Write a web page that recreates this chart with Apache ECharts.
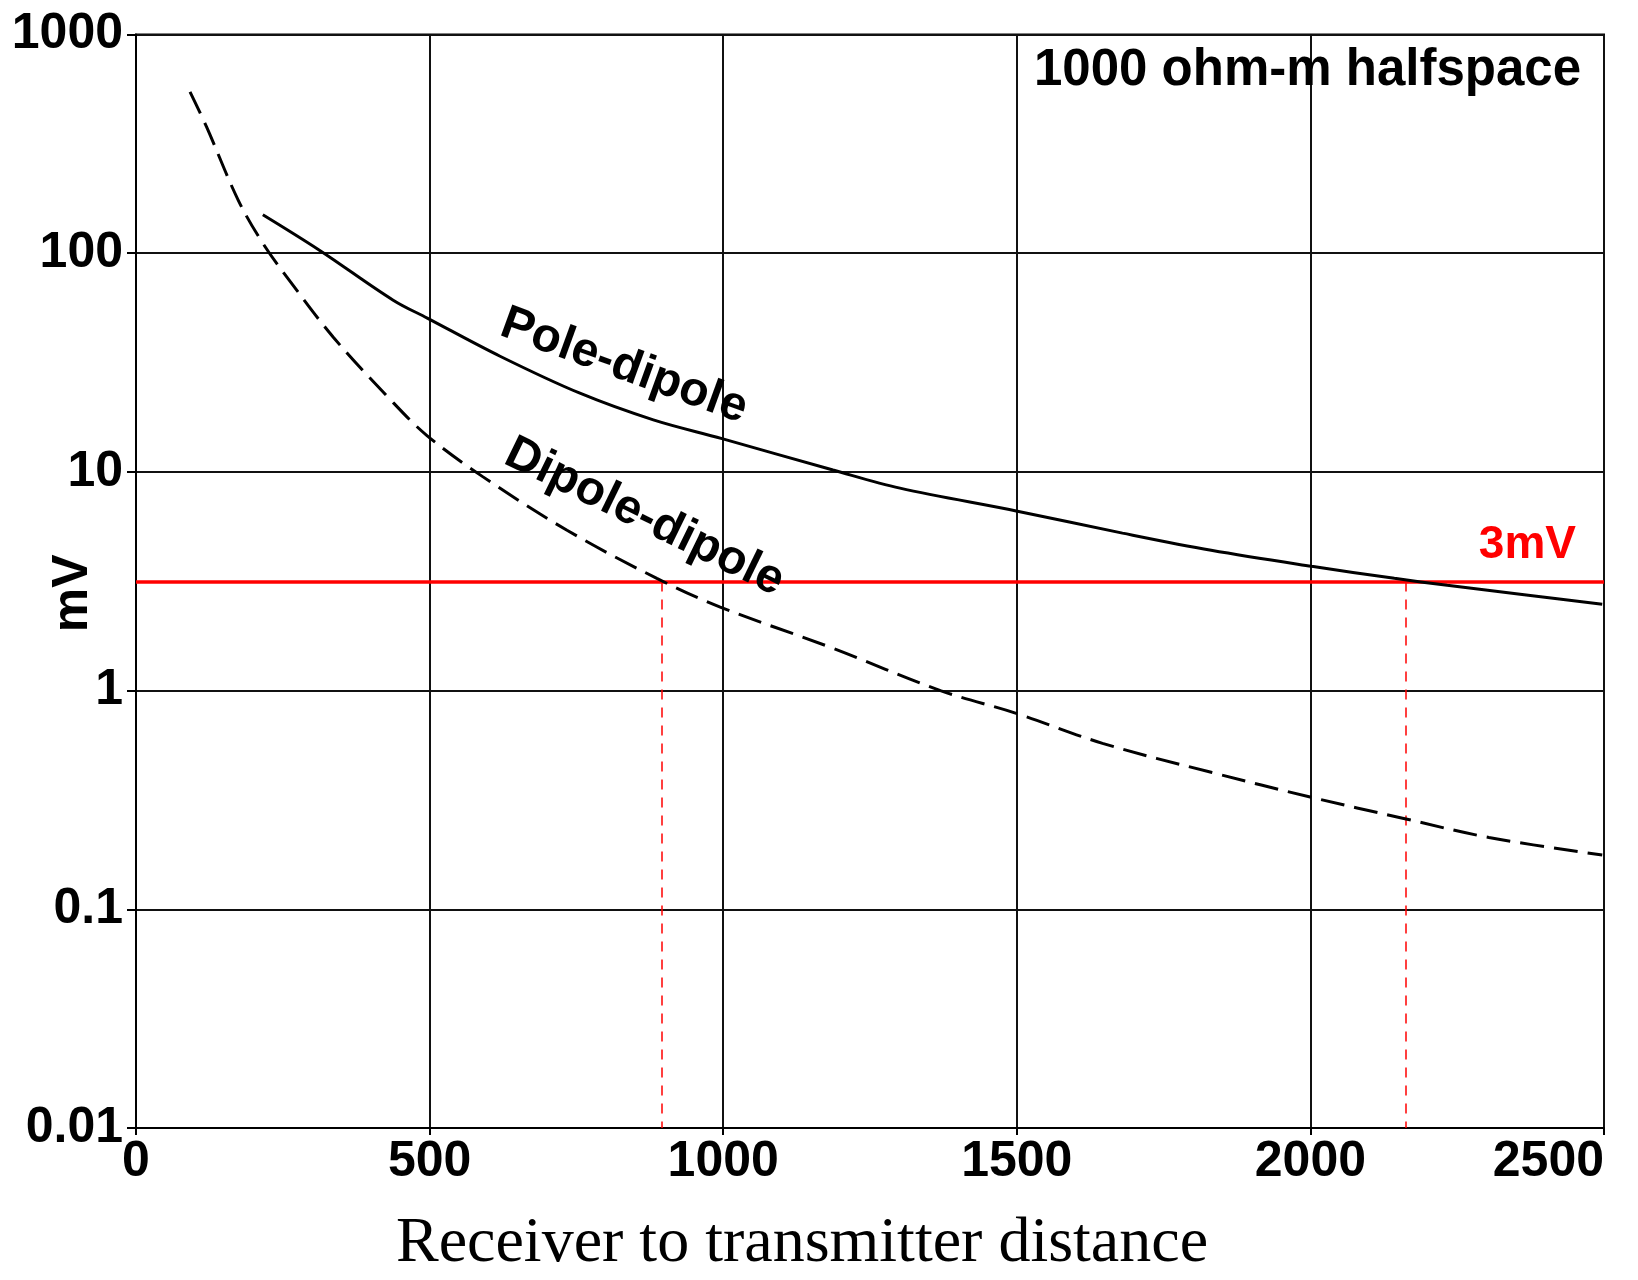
<!DOCTYPE html>
<html>
<head>
<meta charset="utf-8">
<script src="https://cdn.jsdelivr.net/npm/echarts@6/dist/echarts.min.js"></script>
<style>
  html, body { margin: 0; padding: 0; background: #fff; }
  #chart { width: 1638px; height: 1280px; }
</style>
</head>
<body>
<div id="chart"></div>
<script>
// values (distance, mV)
const poleX = [216, 313, 438, 496, 620, 756, 881, 998, 1187, 1301, 1499, 1680, 1831, 2002, 2143, 2233, 2371, 2497];
const poleY = [150, 103, 61, 50.5, 33.8, 22.9, 17.3, 14.2, 10.2, 8.43, 6.63, 5.25, 4.38, 3.70, 3.26, 3.03, 2.73, 2.48];

const dipoleX = [92, 120, 174, 216, 257, 336, 429, 495, 591, 734, 887, 995, 1182, 1370, 1499, 1646, 1831, 2002, 2157, 2304, 2497];
const dipoleY = [547, 379, 175, 111, 77.8, 41.3, 22.0, 14.7, 9.49, 5.41, 3.26, 2.41, 1.58, 1.0, 0.787, 0.574, 0.423, 0.325, 0.261, 0.213, 0.177];

const xTicks = [0, 500, 1000, 1500, 2000, 2500];
const yTickLabels = ['0.01', '0.1', '1', '10', '100', '1000'];

const threshold = 3.15;          // the "3mV" line
const crossX = [895, 2162];      // where the curves meet it
const poleLabelAt = [831, 30.4];
const dipoleLabelAt = [866, 6.2];

const sans = 'Arial, "Liberation Sans", sans-serif';
const serif = '"Times New Roman", "Liberation Serif", serif';

const zip = (xs, ys) => xs.map((x, i) => [x, ys[i]]);

const chart = echarts.init(document.getElementById('chart'));

const curveLabel = (text, rot) => ({
  show: true, position: 'inside', formatter: text, rotate: rot,
  fontSize: 48, fontWeight: 'bold', fontFamily: sans, color: '#000', opacity: 1
});

const option = {
  animation: false,
  backgroundColor: '#fff',
  grid: {
    left: 136, right: 34, top: 34.5, bottom: 152,
    show: true, borderColor: '#000', borderWidth: 2,
    containLabel: false, outerBoundsMode: 'none'
  },
  xAxis: {
    type: 'value',
    min: xTicks[0], max: xTicks[xTicks.length - 1], interval: 500,
    axisLine: { show: true, lineStyle: { color: '#000', width: 2 } },
    axisTick: { show: true, length: 7, lineStyle: { color: '#000', width: 2 } },
    splitLine: { show: true, lineStyle: { color: '#111', width: 2 } },
    axisLabel: {
      fontSize: 50, fontWeight: 'bold', fontFamily: sans, color: '#000',
      margin: 9, alignMaxLabel: 'right',
      formatter: v => String(v)
    },
    name: 'Receiver to transmitter distance',
    nameLocation: 'middle',
    nameGap: 84,
    nameMoveOverlap: false,
    nameTextStyle: { fontFamily: serif, fontSize: 64, color: '#000', padding: [0, 136, 0, 0] }
  },
  yAxis: {
    type: 'log', logBase: 10, min: 0.01, max: 1000,
    axisLine: { show: true, lineStyle: { color: '#000', width: 2 } },
    axisTick: { show: true, length: 9, lineStyle: { color: '#000', width: 2 } },
    splitLine: { show: true, lineStyle: { color: '#111', width: 2 } },
    axisLabel: {
      fontSize: 50, fontWeight: 'bold', fontFamily: sans, color: '#000', margin: 13,
      formatter: v => {
        const s = String(parseFloat(Number(v).toPrecision(4)));
        return yTickLabels.includes(s) ? s : '';
      }
    },
    name: 'mV',
    nameLocation: 'middle',
    nameRotate: 90,
    nameGap: 38,
    nameMoveOverlap: false,
    nameTextStyle: { fontSize: 50, fontWeight: 'bold', fontFamily: sans, color: '#000', padding: [0, 24, 0, 0] }
  },
  series: [
    {
      name: 'Pole-dipole',
      type: 'line',
      data: zip(poleX, poleY),
      showSymbol: false,
      smooth: 0.35,
      lineStyle: { color: '#000', width: 3, type: 'solid' },
      z: 5
    },
    {
      name: 'Dipole-dipole',
      type: 'line',
      data: zip(dipoleX, dipoleY),
      showSymbol: false,
      smooth: 0.35,
      lineStyle: { color: '#000', width: 3, type: [24, 10] },
      z: 5,
      markLine: {
        silent: true,
        symbol: 'none',
        label: { show: false },
        data: [
          { yAxis: threshold, lineStyle: { color: '#ff0000', width: 3.5, type: 'solid' } },
          [
            { coord: [crossX[0], threshold], lineStyle: { color: '#ff0000', width: 1.5, type: [10, 8] } },
            { coord: [crossX[0], 0.01] }
          ],
          [
            { coord: [crossX[1], threshold], lineStyle: { color: '#ff0000', width: 1.5, type: [10, 8] } },
            { coord: [crossX[1], 0.01] }
          ]
        ]
      }
    },
    {
      type: 'scatter',
      silent: true,
      symbolSize: 0,
      itemStyle: { opacity: 1 },
      data: [poleLabelAt],
      label: curveLabel('Pole-dipole', -20),
      z: 6
    },
    {
      type: 'scatter',
      silent: true,
      symbolSize: 0,
      itemStyle: { opacity: 1 },
      data: [dipoleLabelAt],
      label: curveLabel('Dipole-dipole', -26),
      z: 6
    }
  ],
  graphic: [
    {
      type: 'text', x: 1581, y: 71, z: 10,
      style: {
        text: '1000 ohm-m halfspace', fill: '#000',
        font: 'bold 51px ' + sans,
        align: 'right', verticalAlign: 'middle', textAlign: 'right', textVerticalAlign: 'middle'
      }
    },
    {
      type: 'text', x: 1576, y: 545, z: 10,
      style: {
        text: '3mV', fill: '#ff0000',
        font: 'bold 46px ' + sans,
        align: 'right', verticalAlign: 'middle', textAlign: 'right', textVerticalAlign: 'middle'
      }
    }
  ]
};

chart.setOption(option);
</script>
</body>
</html>
